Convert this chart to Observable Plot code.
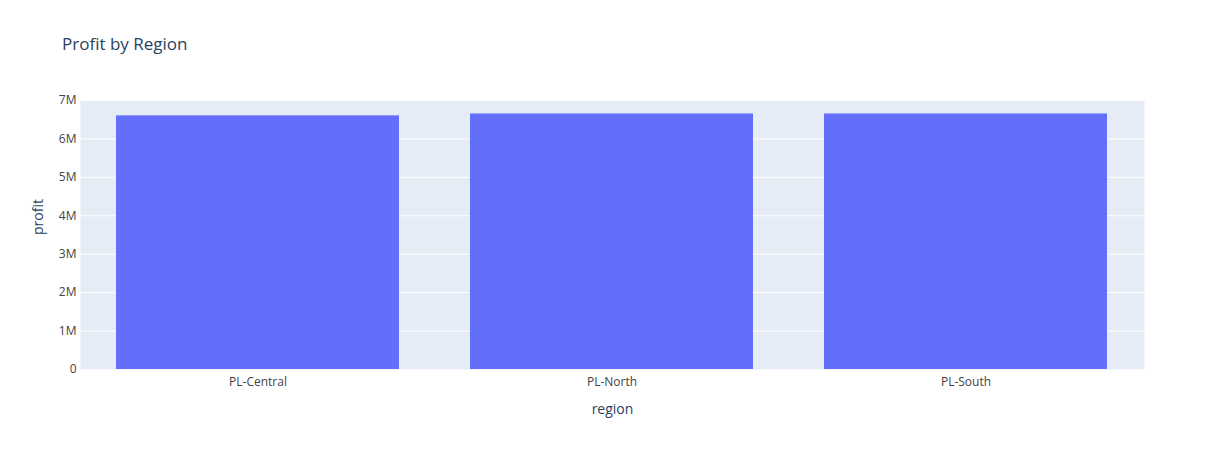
<!DOCTYPE html>
<html>
<head>
<meta charset="utf-8">
<script src="https://cdn.jsdelivr.net/npm/d3@7"></script>
<script src="https://cdn.jsdelivr.net/npm/@observablehq/plot@0.6"></script>
<style>
  body { margin: 0; background: #fff; font-family: "Open Sans", sans-serif; }
  #wrap { position: relative; width: 1224px; height: 450px; }
  #title { position: absolute; left: 62px; top: 32px; font-size: 17px; color: #2a3f5f; }
</style>
</head>
<body>
<div id="wrap">
  <div id="title">Profit by Region</div>
  <div id="chart"></div>
</div>
<script>
// valores
const regions = ["PL-Central", "PL-North", "PL-South"]
const profit = [6.6e6, 6.65e6, 6.65e6]

const data = regions.map((r, i) => ({region: r, profit: profit[i]}))

let chart = Plot.plot({
  width: 1224,
  height: 450,
  marginTop: 100,
  marginLeft: 80,
  marginRight: 80,
  marginBottom: 81,
  style: {fontFamily: "Open Sans, sans-serif", fontSize: "12px", color: "#2a3f5f", background: "#fff"},
  x: {domain: regions, paddingInner: 0.2, paddingOuter: 0.1, label: null},
  y: {domain: [0, 7e6], label: null},
  marks: [
    Plot.frame({fill: "#e5ecf6", stroke: null}),
    Plot.gridY({ticks: d3.range(1e6, 7.01e6, 1e6), stroke: "#fff", strokeOpacity: 1, strokeWidth: 1}),
    Plot.barY(data, {x: "region", y: "profit", fill: "#636efa"}),
    Plot.axisY({ticks: d3.range(0, 7.01e6, 1e6), tickSize: 0, tickPadding: 4, fill: "#444",
      tickFormat: d => d === 0 ? "0" : d / 1e6 + "M", label: null}),
    Plot.axisX({tickSize: 0, tickPadding: 8, fill: "#444", label: null}),
    Plot.text(["region"], {frameAnchor: "bottom", dy: 44, fontSize: 14, fill: "#2a3f5f"}),
    Plot.text(["profit"], {frameAnchor: "left", dx: -42, rotate: -90, fontSize: 14, fill: "#2a3f5f"})
  ]
})
d3.select('#chart').append(() => chart)
</script>
</body>
</html>
